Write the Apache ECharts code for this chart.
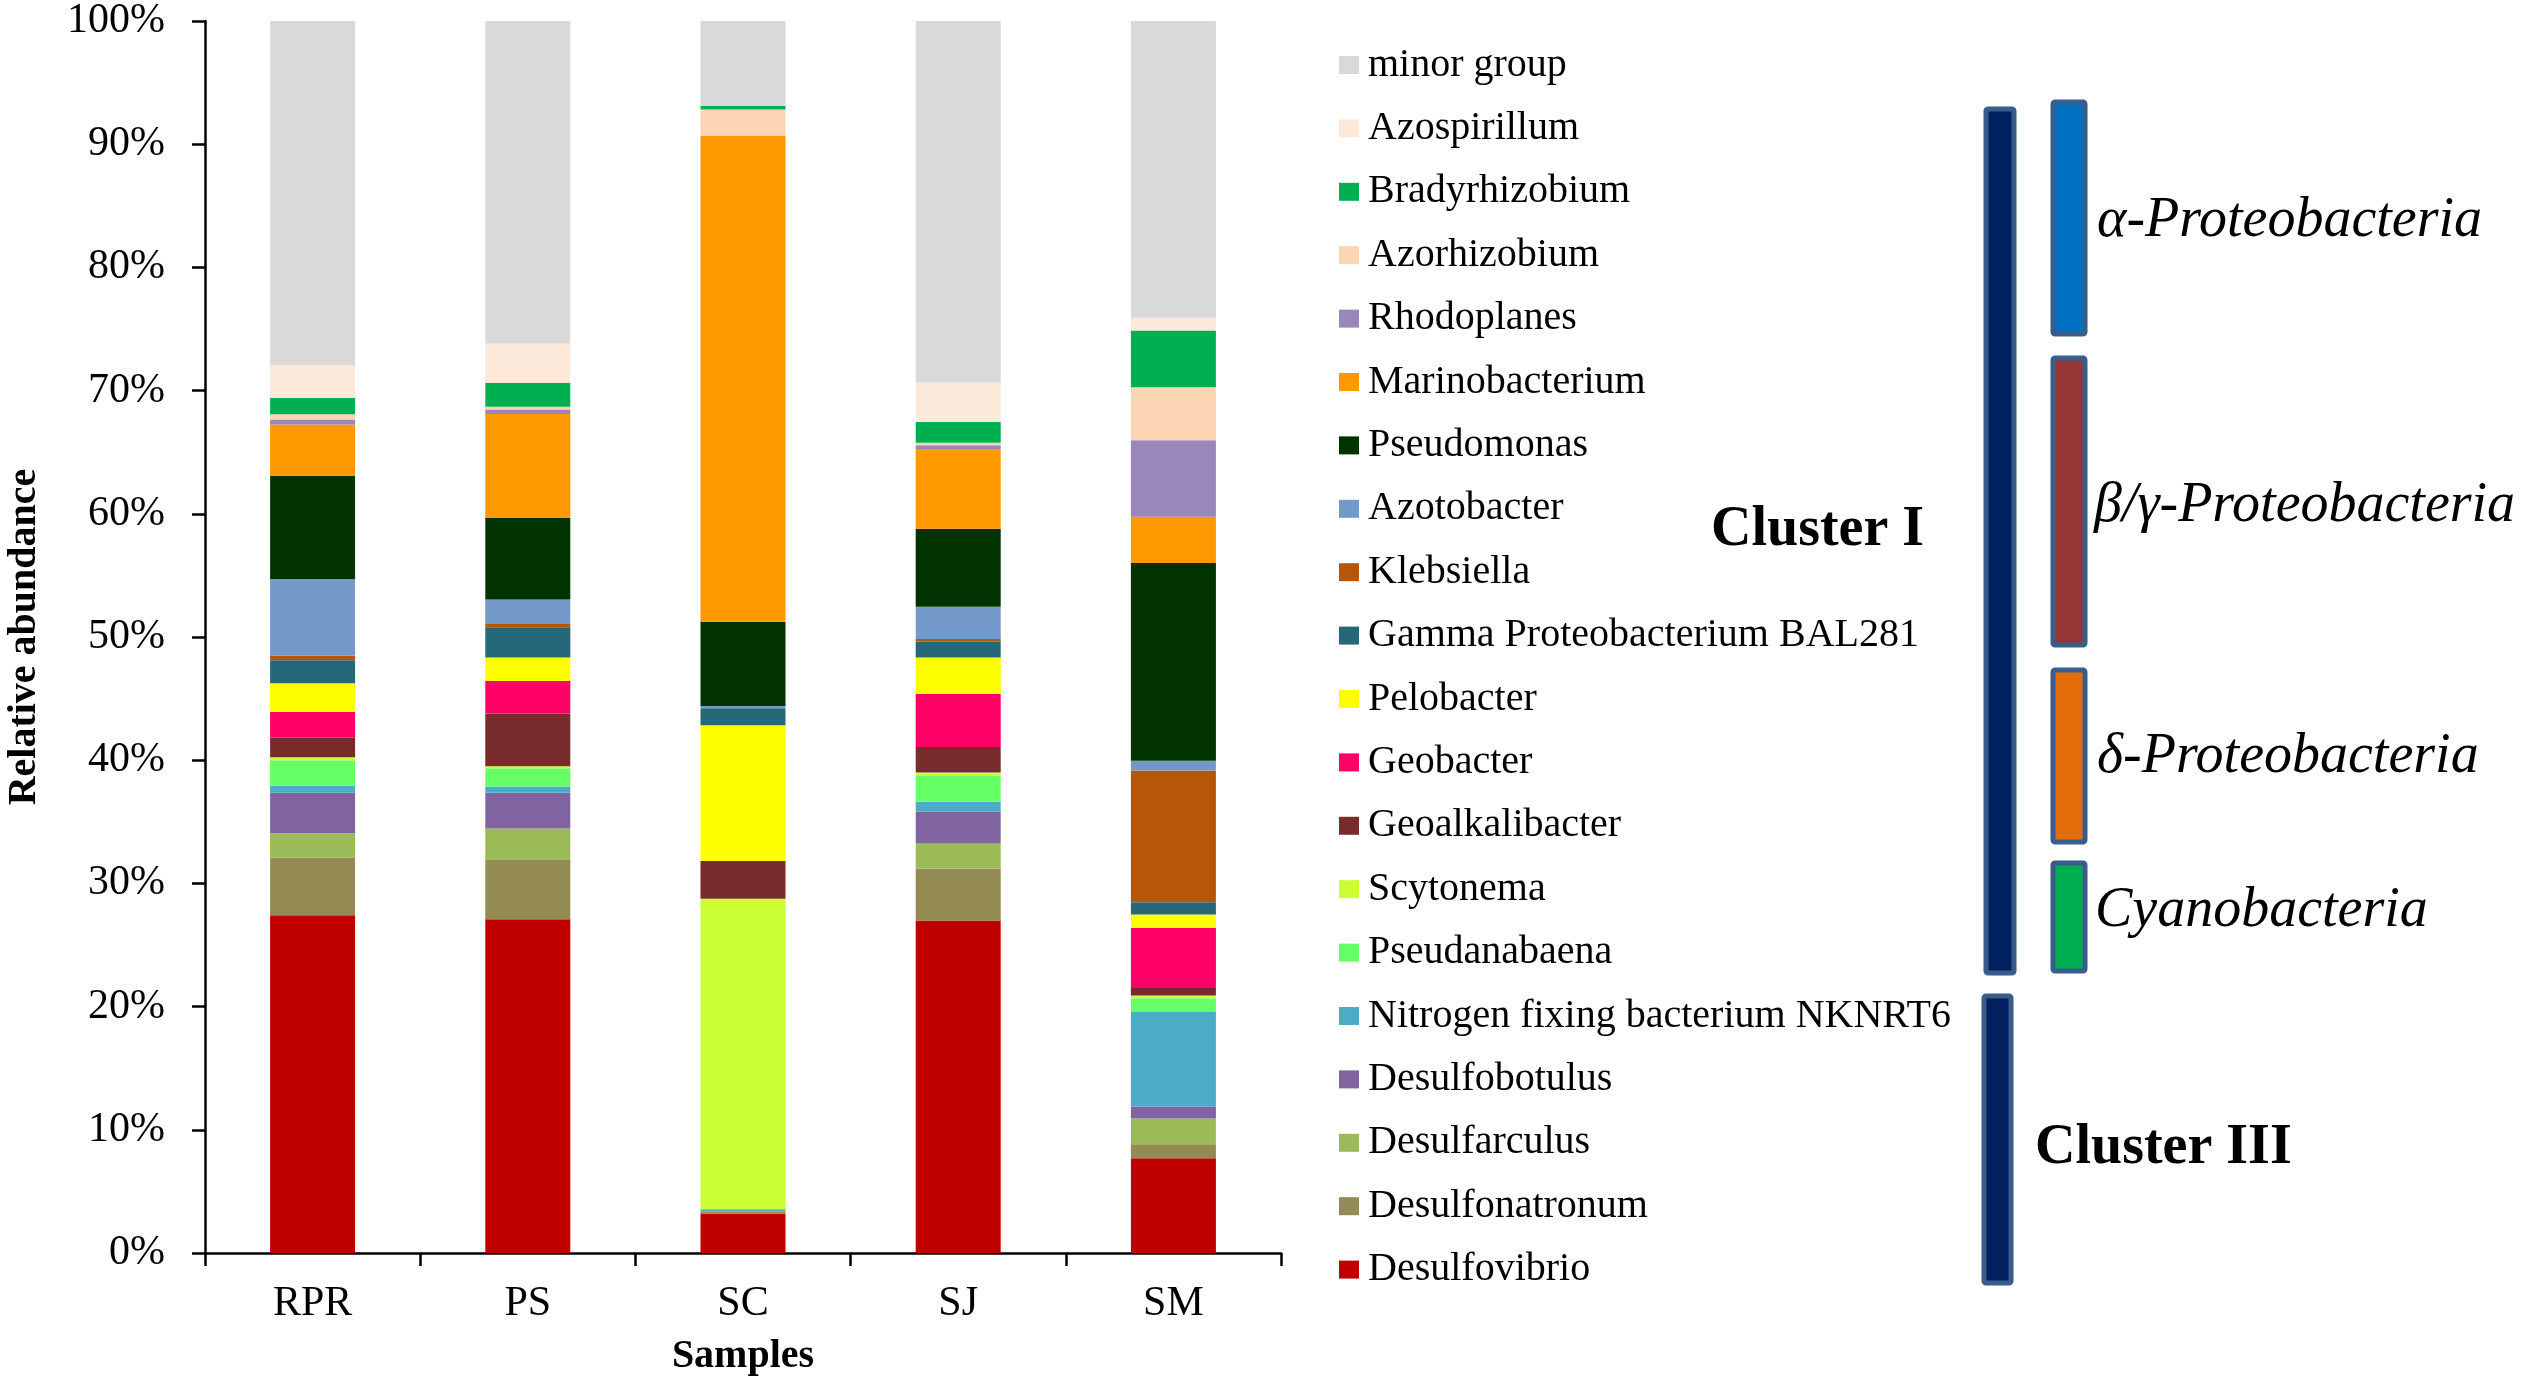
<!DOCTYPE html>
<html>
<head>
<meta charset="utf-8">
<script src="https://cdn.jsdelivr.net/npm/echarts@6/dist/echarts.min.js"></script>
<style>
html,body{margin:0;padding:0;background:#fff;}
#main{width:2533px;height:1388px;}
</style>
</head>
<body>
<div id="main"></div>
<script>
// 样本
var samples = ['RPR', 'PS', 'SC', 'SJ', 'SM'];

// 从下往上的堆叠顺序
var taxa = ['Desulfovibrio', 'Desulfonatronum', 'Desulfarculus', 'Desulfobotulus',
    'Nitrogen fixing bacterium NKNRT6', 'Pseudanabaena', 'Scytonema', 'Geoalkalibacter',
    'Geobacter', 'Pelobacter', 'Gamma Proteobacterium BAL281', 'Klebsiella', 'Azotobacter',
    'Pseudomonas', 'Marinobacterium', 'Rhodoplanes', 'Azorhizobium', 'Bradyrhizobium',
    'Azospirillum', 'minor group'];

var taxaColors = ['#c00000', '#948a54', '#9bbb59', '#8064a2',
    '#4bacc6', '#66ff66', '#ccff33', '#772b2b',
    '#ff0066', '#ffff00', '#24687a', '#b65708', '#7299ca',
    '#003300', '#ff9900', '#9a86b8', '#fcd5b5', '#00b050',
    '#fde9d9', '#d9d9d9'];

// 每个样本的相对丰度(%)，顺序同 taxa
var rpr = [27.41, 4.67, 1.99, 3.29, 0.57, 2.07, 0.23, 1.61, 2.07, 2.34, 1.87, 0.36, 6.22, 8.39, 4.16, 0.40, 0.43, 1.34, 2.64, 27.94];
var ps  = [27.10, 4.79, 2.56, 2.91, 0.50, 1.49, 0.15, 4.29, 2.64, 1.91, 2.46, 0.32, 1.92, 6.61, 8.46, 0.36, 0.22, 1.95, 3.18, 26.18];
var sc  = [3.18, 0.15, 0.08, 0.00, 0.15, 0.00, 25.19, 3.06, 0.00, 11.02, 1.38, 0.00, 0.19, 6.83, 39.48, 0.00, 2.10, 0.30, 0.00, 6.89];
var sj  = [26.99, 4.21, 2.03, 2.60, 0.80, 2.15, 0.22, 2.07, 4.33, 2.94, 1.30, 0.20, 2.61, 6.33, 6.41, 0.37, 0.21, 1.70, 3.19, 29.34];
var sm  = [7.69, 1.08, 2.14, 0.99, 7.66, 1.11, 0.23, 0.61, 4.86, 1.11, 1.00, 10.68, 0.79, 16.06, 3.76, 6.21, 4.30, 4.59, 1.04, 24.09];

var yTicks = [0, 10, 20, 30, 40, 50, 60, 70, 80, 90, 100];

var myChart = echarts.init(document.getElementById('main'));
var serif = 'Liberation Serif, Times New Roman, serif';

var sampleRows = [rpr, ps, sc, sj, sm];
var series = [];
for (var i = 0; i < taxa.length; i++) {
    var vals = [];
    for (var j = 0; j < sampleRows.length; j++) {
        vals.push(sampleRows[j][i]);
    }
    series.push({
        name: taxa[i],
        type: 'bar',
        stack: 'total',
        barWidth: 85,
        itemStyle: {color: taxaColors[i]},
        data: vals
    });
}

// 图例从上往下
var legendData = taxa.slice().reverse();

// 右侧分组标记
function bar(x, y, w, h, fill) {
    return {
        type: 'rect',
        shape: {x: x, y: y, width: w, height: h, r: 2},
        style: {fill: fill, stroke: '#385d8a', lineWidth: 5}
    };
}
function label(x, y, txt, italic, bold) {
    return {
        type: 'text',
        x: x, y: y,
        style: {
            text: txt,
            fill: '#000',
            font: (italic ? 'italic ' : '') + (bold ? 'bold ' : '') + '56px ' + serif,
            verticalAlign: 'middle',
            align: 'left'
        }
    };
}

var option = {
    backgroundColor: '#fff',
    animation: false,
    color: taxaColors,
    grid: {left: 205, right: 1252, top: 19.6, bottom: 135, containLabel: false},
    legend: {
        orient: 'vertical',
        left: 1339,
        top: 45,
        padding: 0,
        data: legendData,
        icon: 'rect',
        itemWidth: 20,
        itemHeight: 18,
        itemGap: 23.4,
        selectedMode: false,
        textStyle: {
            color: '#000',
            fontFamily: serif,
            fontSize: 40,
            lineHeight: 40,
            padding: [0, 0, 0, 4]
        }
    },
    xAxis: {
        type: 'category',
        data: samples,
        name: 'Samples',
        nameLocation: 'middle',
        nameGap: 84,
        nameTextStyle: {color: '#000', fontFamily: serif, fontSize: 40, fontWeight: 'bold'},
        axisLine: {lineStyle: {color: '#000', width: 2.5}},
        axisTick: {show: true, length: 13, lineStyle: {color: '#000', width: 2.5}},
        axisLabel: {color: '#000', fontFamily: serif, fontSize: 42, margin: 30}
    },
    yAxis: {
        type: 'value',
        min: 0,
        max: 100,
        interval: 10,
        name: 'Relative abundance',
        nameLocation: 'middle',
        nameGap: 160,
        nameRotate: 90,
        nameTextStyle: {color: '#000', fontFamily: serif, fontSize: 40, fontWeight: 'bold'},
        axisLine: {show: true, lineStyle: {color: '#000', width: 2.5}},
        axisTick: {show: true, length: 13, lineStyle: {color: '#000', width: 2.5}},
        splitLine: {show: false},
        axisLabel: {
            color: '#000', fontFamily: serif, fontSize: 42, margin: 40,
            formatter: function (v) {
                return yTicks.indexOf(v) >= 0 ? v + '%' : '';
            }
        }
    },
    graphic: [
        bar(1986, 109, 28, 864, '#002060'),
        bar(1984, 996, 27, 287, '#002060'),
        bar(2053, 102, 32, 232, '#0070c0'),
        bar(2053, 358, 32, 287, '#943634'),
        bar(2053, 670, 32, 172, '#e46c0a'),
        bar(2053, 863, 32, 108, '#00b050'),
        label(1711, 531, 'Cluster I', false, true),
        label(2035, 1149, 'Cluster III', false, true),
        label(2097, 221, 'α-Proteobacteria', true, false),
        label(2094, 506, 'β/γ-Proteobacteria', true, false),
        label(2097, 757, 'δ-Proteobacteria', true, false),
        label(2095, 911, 'Cyanobacteria', true, false)
    ],
    series: series
};

myChart.setOption(option);
</script>
</body>
</html>
